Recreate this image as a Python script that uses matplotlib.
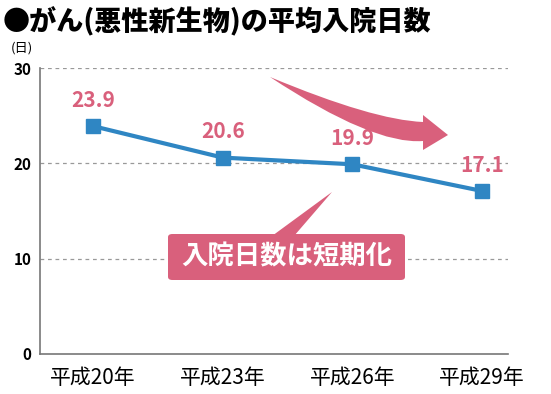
import matplotlib
matplotlib.use("Agg")
import matplotlib.pyplot as plt
from matplotlib.patches import FancyBboxPatch, Polygon, PathPatch
from matplotlib.path import Path

plt.rcParams["font.family"] = ["Noto Sans CJK JP", "DejaVu Sans"]

years = ["平成20年", "平成23年", "平成26年", "平成29年"]
days = [23.9, 20.6, 19.9, 17.1]
yticks = [0, 10, 20, 30]

BLUE = "#2f86c3"
PINK = "#d9607c"
W, H = 551, 394


def px(x, y):
    # pixel position -> figure fraction
    return x / W, 1 - y / H


fig = plt.figure(figsize=(W / 100, H / 100), dpi=100)
ax = fig.add_axes([40 / W, 1 - 354 / H, 468 / W, 286 / H])

xs = range(len(years))
ax.plot(xs, days, color=BLUE, lw=3, marker="s", ms=10, zorder=3)
for x, v in zip(xs, days):
    ax.annotate(f"{v}", (x, v), xytext=(0, 11), textcoords="offset points",
                ha="center", va="bottom", color=PINK, fontsize=15, fontweight="bold")

ax.set_xlim(-0.41, 3.2)
ax.set_ylim(0, 30)
ax.set_yticks(yticks)
ax.set_yticklabels([str(t) for t in yticks], fontsize=11, fontweight="bold")
ax.set_xticks(list(xs))
ax.set_xticklabels(years, fontsize=15)
ax.tick_params(length=0, pad=6)
ax.tick_params(axis="x", pad=9)
for t in yticks[1:]:
    ax.axhline(t, color="#999999", lw=0.9, ls=(0, (3, 3)), zorder=1)
for s in ["top", "right"]:
    ax.spines[s].set_visible(False)
for s in ["left", "bottom"]:
    ax.spines[s].set_color("#777777")
    ax.spines[s].set_linewidth(1.2)

fig.text(*px(3, 22), "●がん(悪性新生物)の平均入院日数", fontsize=19.5,
         fontweight="black", va="center", ha="left")
fig.text(*px(22, 48), "(日)", fontsize=9.5, va="center", ha="center")

# big curved arrow, tapered tail
verts = [(270, 77), (373, 120), (423, 122), (423, 115), (448, 135),
         (423, 150), (423, 141), (373, 145), (270, 77), (270, 77)]
codes = [Path.MOVETO, Path.CURVE3, Path.CURVE3, Path.LINETO, Path.LINETO,
         Path.LINETO, Path.LINETO, Path.CURVE3, Path.CURVE3, Path.CLOSEPOLY]
arrow = PathPatch(Path([px(*v) for v in verts], codes), transform=fig.transFigure,
                  fc=PINK, ec="none", zorder=5)
fig.add_artist(arrow)

# callout box
box = FancyBboxPatch(px(168, 280), 237 / W, 46 / H, transform=fig.transFigure,
                     boxstyle="round,pad=0,rounding_size=0.008",
                     fc=PINK, ec="none", zorder=5)
fig.add_artist(box)
tri = Polygon([px(272, 236), px(332, 192), px(294, 236)], closed=True,
              transform=fig.transFigure, fc=PINK, ec="none", zorder=5)
fig.add_artist(tri)
fig.text(*px(287, 257), "入院日数は短期化", color="white", fontsize=19,
         fontweight="bold", ha="center", va="center", zorder=6)

fig.savefig("out.png", dpi=100)
